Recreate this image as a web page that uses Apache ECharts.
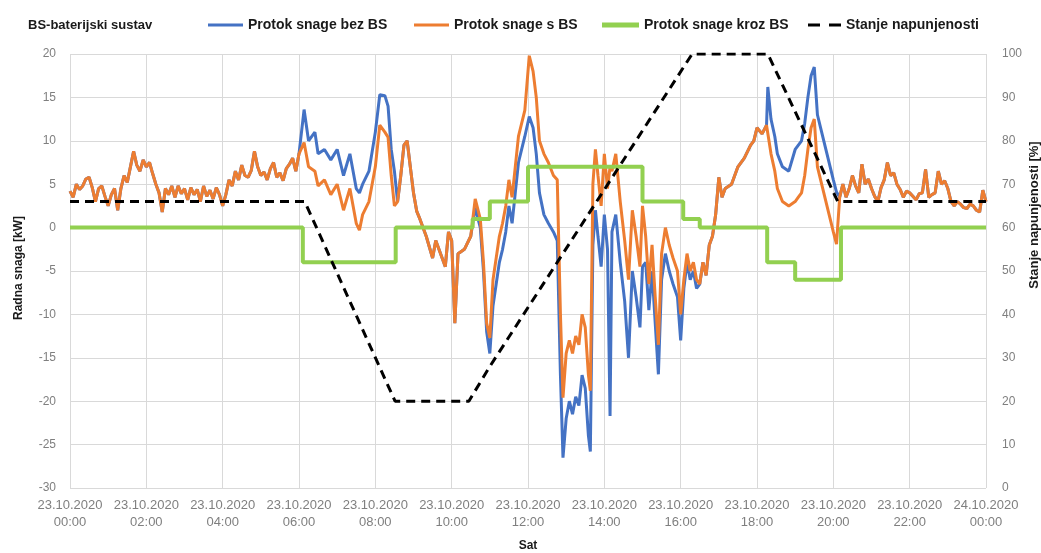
<!DOCTYPE html>
<html>
<head>
<meta charset="utf-8">
<script src="https://cdn.jsdelivr.net/npm/echarts@6/dist/echarts.min.js"></script>
<style>
html,body{margin:0;padding:0;background:#fff;}
#chart{width:1041px;height:553px;}
</style>
</head>
<body>
<div id="chart"></div>
<script>
// ---- Data (time in minutes from 23.10.2020 00:00) ----
// Segment A: 00:00-06:00 (battery idle, both power flows coincide)
const timeA = [0,5,10,15,20,25,30,35,40,45,
  50,55,60,65,70,75,80,85,90,95,
  100,105,110,115,120,125,130,135,140,145,
  150,155,160,165,170,175,180,185,190,195,
  200,205,210,215,220,225,230,235,240,245,
  250,255,260,265,270,275,280,285,290,295,
  300,305,310,315,320,325,330,335,340,345,
  350,355,360];
const powerA = [4.2,3.5,5.0,4.4,4.8,5.6,5.8,4.6,3.0,4.5,
  4.8,3.6,2.5,3.8,4.5,2.0,4.5,6.0,5.2,7.0,
  8.8,7.2,6.5,7.8,7.0,7.5,6.2,5.0,4.0,1.8,
  4.5,3.8,4.8,3.5,4.8,3.9,4.5,3.2,4.6,3.8,
  4.4,3.0,4.8,3.6,4.3,3.3,4.6,3.8,2.5,3.8,
  5.5,4.8,6.5,5.5,7.2,6.0,5.8,6.6,8.8,7.0,
  6.0,6.4,5.5,6.8,7.5,5.8,6.3,5.4,6.8,7.3,
  8.0,6.5,8.5];

// Segment B: 06:08-20:05 (battery active)
const timeB = [368,375,385,390,400,410,420,430,440,450,
  455,460,470,480,487,495,500,505,510,515,
  520,525,530,535,540,545,550,560,570,575,
  580,590,595,600,605,610,620,630,637,645,
  650,655,660,665,670,675,680,685,690,695,
  700,705,710,715,722,728,733,738,745,752,
  760,766,771,775,780,785,790,795,800,805,
  810,815,818,822,826,830,835,840,845,849,
  852,858,865,872,878,884,890,896,900,905,
  910,915,920,925,930,936,942,948,955,960,
  965,970,975,980,985,990,995,1000,1005,1010,
  1015,1020,1025,1030,1040,1050,1060,1070,1075,1080,
  1088,1095,1097,1102,1108,1112,1120,1130,1140,1145,
  1150,1155,1160,1165,1170,1175,1180,1185,1190,1195,
  1200,1205];
// Protok snage s BS [kW]
const sBsB = [9.8,7.0,6.5,4.8,5.5,3.8,5.0,2.0,4.5,0.5,
  -0.3,1.5,3.0,7.0,11.8,11.0,10.4,6.0,2.5,3.0,
  6.0,9.5,10.0,7.0,4.0,1.9,1.0,-1.0,-3.5,-1.5,
  -2.5,-4.5,-0.5,-1.5,-11.0,-3.0,-2.5,-1.0,3.3,1.0,
  -4.0,-11.0,-12.7,-6.0,-3.5,-1.0,0.5,2.5,5.5,3.5,
  7.0,10.5,12.0,13.5,19.8,18.0,15.0,10.0,8.5,7.5,
  6.0,5.5,-10.0,-19.6,-14.5,-13.0,-14.5,-12.5,-13.5,-10.0,
  -11.5,-17.0,-18.8,5.0,9.0,6.0,2.5,8.5,4.5,7.0,
  6.5,8.5,3.0,-1.5,-6.0,2.0,-1.0,-4.5,2.5,-1.0,
  -6.5,-2.0,-8.0,-13.5,-3.0,0.0,-2.0,-3.5,-5.0,-10.0,
  -6.0,-3.0,-5.0,-4.0,-6.0,-6.5,-4.0,-5.5,-2.0,-1.0,
  1.5,5.8,3.5,4.5,5.0,7.0,8.0,9.5,10.0,11.5,
  10.8,11.8,12.0,8.5,6.5,4.5,3.0,2.5,3.0,3.5,
  4.0,6.0,9.0,11.5,12.5,7.0,5.5,4.0,2.5,1.0,
  -0.5,-1.9];
// Protok snage bez BS [kW]
const bezBsB = [13.6,10.0,11.0,8.5,9.0,7.8,9.0,6.0,8.5,4.5,
  4.0,5.0,6.5,11.0,15.3,15.2,14.0,9.0,6.5,3.0,
  6.0,9.5,10.0,7.0,4.0,1.9,1.0,-1.0,-3.5,-1.5,
  -2.5,-4.5,-0.5,-1.5,-11.0,-3.0,-2.5,-1.0,2.3,0.0,
  -5.0,-12.0,-14.5,-9.0,-6.5,-4.0,-2.5,-0.5,2.5,0.5,
  4.0,7.5,9.0,10.5,12.8,11.5,8.5,4.0,1.5,0.5,
  -0.5,-1.5,-17.0,-26.5,-22.0,-20.0,-21.5,-19.5,-20.5,-17.0,
  -18.5,-24.0,-25.8,-2.0,2.0,-1.0,-4.5,1.5,-2.5,-21.7,
  -0.5,1.5,-4.0,-8.5,-15.0,-5.0,-8.0,-11.5,-4.5,-4.0,
  -9.5,-5.0,-11.0,-16.9,-6.0,-3.0,-5.0,-6.5,-8.0,-13.0,
  -7.0,-4.0,-6.0,-5.0,-7.0,-6.5,-4.0,-5.5,-2.0,-1.0,
  1.5,5.8,3.5,4.5,5.0,7.0,8.0,9.5,10.0,11.5,
  10.8,11.8,16.2,12.5,10.5,8.5,7.0,6.5,9.0,9.5,
  10.0,12.0,15.0,17.5,18.5,13.0,11.5,10.0,8.5,7.0,
  5.5,4.1];

// Segment C: 20:10-24:00 (battery idle, both power flows coincide)
const timeC = [1210,1215,1220,1225,1230,1235,1240,1245,1250,1255,
  1260,1265,1270,1275,1280,1285,1290,1295,1300,1305,
  1310,1315,1320,1325,1330,1335,1340,1345,1350,1355,
  1360,1365,1370,1375,1380,1385,1390,1395,1400,1405,
  1410,1415,1420,1425,1430,1435,1440];
const powerC = [3.5,5.0,3.5,4.5,6.0,4.8,4.0,7.3,5.0,5.6,
  4.5,3.6,3.0,4.6,5.5,7.5,6.0,6.3,5.0,4.4,
  3.5,4.2,4.0,3.6,3.2,3.9,4.0,6.7,3.5,3.8,
  4.0,6.5,5.0,5.4,4.5,3.0,2.5,3.0,2.7,2.3,
  2.2,2.7,2.5,2.0,1.8,4.3,3.0];

// Protok snage kroz BS [kW] (each value holds until the next time)
const krozTimes = [0,366,512,633,660,720,900,964,990,1096,1140,1212,1440];
const krozVals  = [0,-4,0,1,3,7,3,1,0,-4,-6,0,0];

// Stanje napunjenosti [%]
const socTimes = [0,369,511,627,660,978,1097,1207,1440];
const socVals  = [66,66,20,20,28,100,100,66,66];

const xTickLabels = ['23.10.2020\n00:00','23.10.2020\n02:00','23.10.2020\n04:00','23.10.2020\n06:00','23.10.2020\n08:00','23.10.2020\n10:00','23.10.2020\n12:00','23.10.2020\n14:00','23.10.2020\n16:00','23.10.2020\n18:00','23.10.2020\n20:00','23.10.2020\n22:00','24.10.2020\n00:00'];

const seriesNames = ['Protok snage bez BS','Protok snage s BS','Protok snage kroz BS','Stanje napunjenosti'];
const colors = ['#4472C4','#ED7D31','#92D050','#000000'];

// ---- Build ----
const timeMin = [...timeA, ...timeB, ...timeC];
const protokS = [...powerA, ...sBsB, ...powerC];
const protokBez = [...powerA, ...bezBsB, ...powerC];
const zip = (a,b) => a.map((t,i)=>[t,b[i]]);
const FONT = 'Liberation Sans, Arial, sans-serif';

function legendAt(idx, left, w, h, icon){
  return {
    data:[{name:seriesNames[idx], icon:icon}], left:left, top:13,
    itemWidth:w, itemHeight:h, symbolKeepAspect:false,
    textStyle:{fontFamily:FONT, fontSize:14, fontWeight:'bold', color:'#1a1a1a'}
  };
}
function vTitle(text, x, y, size){
  return {type:'text', x:x, y:y, rotation:Math.PI/2, z:100,
    style:{text:text, fill:'#1a1a1a', font:'bold '+size+'px '+FONT,
      align:'center', verticalAlign:'middle', textAlign:'center', textVerticalAlign:'middle'}};
}

const chart = echarts.init(document.getElementById('chart'), null, {renderer:'canvas'});
chart.setOption({
  animation:false,
  backgroundColor:'#fff',
  textStyle:{fontFamily:FONT},
  title:{text:'BS-baterijski sustav', left:23, top:14,
    textStyle:{fontFamily:FONT, fontSize:13, fontWeight:'bold', color:'#1a1a1a'}},
  legend:[
    legendAt(0,203,35,3,'rect'),
    legendAt(1,409,35,3,'rect'),
    legendAt(2,597,37,5,'rect'),
    legendAt(3,803,33,3,'path://M0,0h12v3h-12z M21,0h12v3h-12z')
  ],
  graphic:[
    vTitle('Radna snaga [kW]', 19, 268, 12),
    vTitle('Stanje napunjenosti [%]', 1034, 215, 13)
  ],
  grid:{left:70, right:55, top:54, bottom:65, outerBoundsMode:'none', containLabel:false},
  xAxis:{
    type:'value', min:0, max:1440, interval:120,
    name:'Sat', nameLocation:'middle', nameGap:52,
    nameTextStyle:{fontFamily:FONT, fontSize:12, fontWeight:'bold', color:'#1a1a1a'},
    axisLine:{show:false}, axisTick:{show:false},
    axisLabel:{formatter:(v)=>xTickLabels[Math.round(v/120)], color:'#7f7f7f', fontSize:13, lineHeight:17, margin:9, fontFamily:FONT},
    splitLine:{show:true, lineStyle:{color:'#d9d9d9', width:1}}
  },
  yAxis:[{
    type:'value', min:-30, max:20, interval:5,
    axisLine:{show:false}, axisTick:{show:false},
    axisLabel:{color:'#7f7f7f', fontSize:12, margin:14, fontFamily:FONT},
    splitLine:{show:true, lineStyle:{color:'#d9d9d9', width:1}}
  },{
    type:'value', min:0, max:100, interval:10, position:'right',
    axisLine:{show:false}, axisTick:{show:false},
    axisLabel:{color:'#7f7f7f', fontSize:12, margin:16, fontFamily:FONT},
    splitLine:{show:false}
  }],
  series:[
    {name:seriesNames[0], type:'line', yAxisIndex:0, data:zip(timeMin, protokBez), symbol:'none',
      lineStyle:{color:colors[0], width:3}, itemStyle:{color:colors[0]}},
    {name:seriesNames[1], type:'line', yAxisIndex:0, data:zip(timeMin, protokS), symbol:'none',
      lineStyle:{color:colors[1], width:3}, itemStyle:{color:colors[1]}},
    {name:seriesNames[2], type:'line', yAxisIndex:0, data:zip(krozTimes, krozVals), symbol:'none', step:'end',
      lineStyle:{color:colors[2], width:4}, itemStyle:{color:colors[2]}},
    {name:seriesNames[3], type:'line', yAxisIndex:1, data:zip(socTimes, socVals), symbol:'none',
      lineStyle:{color:colors[3], width:3, type:[9,6]}, itemStyle:{color:colors[3]}}
  ]
});
</script>
</body>
</html>
